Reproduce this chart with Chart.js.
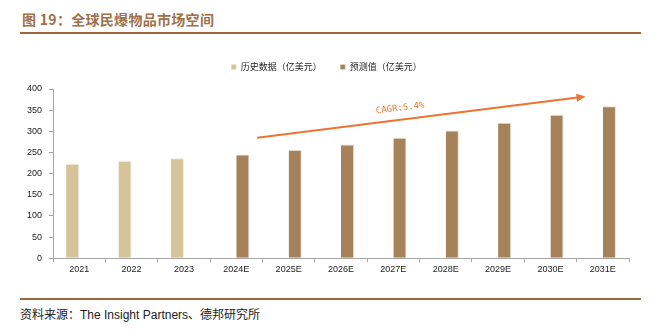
<!DOCTYPE html>
<html>
<head>
<meta charset="utf-8">
<script src="https://cdn.jsdelivr.net/npm/chart.js@4.4.1/dist/chart.umd.min.js"></script>
<style>
  html, body { margin: 0; padding: 0; background: #fff; }
  body { width: 665px; height: 336px; position: relative; overflow: hidden; }
  #title { position: absolute; left: 22px; top: 9px; font: bold 14px "Noto Sans CJK SC", sans-serif; color: #A0704A; letter-spacing: 0.3px; white-space: nowrap; }
  .rule { position: absolute; left: 20px; width: 621px; height: 2px; background: #9C6840; }
  #source { position: absolute; left: 20px; top: 305px; font: 12px "Liberation Sans", "Noto Sans CJK SC", sans-serif; color: #222; white-space: nowrap; }
  #wrap { position: absolute; left: 0; top: 40px; width: 665px; height: 237px; }
</style>
</head>
<body>
<div id="title">图 19：全球民爆物品市场空间</div>
<div class="rule" style="top:32px"></div>
<div id="wrap"><canvas id="marketchart"></canvas></div>
<div class="rule" style="top:298px"></div>
<div id="source">资料来源：The Insight Partners、德邦研究所</div>
<script>
const years = ['2021', '2022', '2023', '2024E', '2025E', '2026E', '2027E', '2028E', '2029E', '2030E', '2031E'];
const history = [223, 230, 236, null, null, null, null, null, null, null, null];
const forecast = [null, null, null, 245, 256, 269, 285, 302, 320, 339, 359];
const yTicks = [0, 50, 100, 150, 200, 250, 300, 350, 400];
const cagrLabel = 'CAGR:5.4%';
// arrow ends in data units (category index, value)
const arrowFrom = [3.4, 285];
const arrowTo = [9.67, 382];

const cagrArrow = {
    id: 'cagrArrow',
    afterDatasetsDraw(chart) {
        const {ctx, scales: {x, y}} = chart;
        const x1 = x.getPixelForValue(arrowFrom[0]), y1 = y.getPixelForValue(arrowFrom[1]);
        const x2 = x.getPixelForValue(arrowTo[0]), y2 = y.getPixelForValue(arrowTo[1]);
        const ang = Math.atan2(y2 - y1, x2 - x1);
        ctx.save();
        ctx.strokeStyle = '#ED7331';
        ctx.fillStyle = '#ED7331';
        ctx.lineWidth = 2;
        ctx.beginPath();
        ctx.moveTo(x1, y1);
        ctx.lineTo(x2 - 6 * Math.cos(ang), y2 - 6 * Math.sin(ang));
        ctx.stroke();
        // arrow head
        ctx.translate(x2, y2);
        ctx.rotate(ang);
        ctx.beginPath();
        ctx.moveTo(0, 0);
        ctx.lineTo(-9, -4);
        ctx.lineTo(-9, 4);
        ctx.closePath();
        ctx.fill();
        ctx.restore();

        // label along the arrow
        ctx.save();
        const mx = x1 + (x2 - x1) * 0.44, my = y1 + (y2 - y1) * 0.44;
        ctx.translate(mx, my);
        ctx.rotate(ang);
        ctx.font = '9px "DejaVu Sans Mono", monospace';
        ctx.fillStyle = '#ED7D31';
        ctx.textAlign = 'center';
        ctx.textBaseline = 'bottom';
        ctx.fillText(cagrLabel, 0, -7);
        ctx.restore();
    }
};

const ctx = document.getElementById('marketchart').getContext('2d');
new Chart(ctx, {
    type: 'bar',
    data: {
        labels: years,
        datasets: [{
                label: '历史数据（亿美元）',
                data: history,
                backgroundColor: '#D5C399',
                borderColor: '#EFE7D8',
                borderWidth: {top: 1, right: 1, left: 0, bottom: 0},
                categoryPercentage: 0.5,
                barPercentage: 1
            },
            {
                label: '预测值（亿美元）',
                data: forecast,
                backgroundColor: '#A6825A',
                borderColor: '#E6DACB',
                borderWidth: {top: 1, right: 1, left: 0, bottom: 0},
                categoryPercentage: 0.5,
                barPercentage: 1
            }
        ]
    },
    options: {
        responsive: true,
        maintainAspectRatio: false,
        animation: false,
        layout: {
            padding: {left: 24, right: 36, top: 4, bottom: 0}
        },
        plugins: {
            legend: {
                display: true,
                weight: 3000, // keep legend above the spacer title
                labels: {
                    boxWidth: 5,
                    boxHeight: 5,
                    padding: 18.5,
                    color: '#222',
                    font: {size: 9, family: '"Noto Sans CJK SC", sans-serif'}
                }
            },
            title: {
                // empty title used as a gap between legend and plot
                display: true,
                text: '',
                font: {size: 1},
                padding: {top: 0, bottom: 6.3}
            },
            tooltip: {enabled: false}
        },
        scales: {
            y: {
                min: 0,
                max: 400,
                afterBuildTicks: scale => { scale.ticks = yTicks.map(v => ({value: v})); },
                afterFit: scale => { scale.width = 29; },
                border: {color: '#A6A6A6', width: 1},
                grid: {display: true, drawOnChartArea: false, drawTicks: true, tickLength: 4, color: '#A6A6A6'},
                ticks: {
                    color: '#222',
                    padding: 7,
                    font: {size: 9, family: '"Liberation Sans", Arial, sans-serif'}
                }
            },
            x: {
                border: {color: '#A6A6A6', width: 1},
                grid: {display: true, drawOnChartArea: false, drawTicks: true, tickLength: 4, color: '#A6A6A6', offset: true},
                ticks: {
                    color: '#222',
                    padding: 2,
                    maxRotation: 0,
                    font: {size: 9, family: '"Liberation Sans", Arial, sans-serif'}
                }
            }
        }
    },
    plugins: [cagrArrow]
});
</script>
</body>
</html>
